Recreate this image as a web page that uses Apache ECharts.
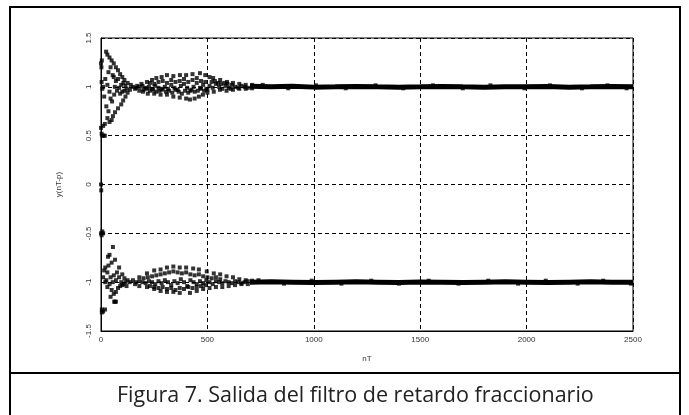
<!DOCTYPE html>
<html>
<head>
<meta charset="utf-8">
<title>Figura 7</title>
<script src="https://cdn.jsdelivr.net/npm/echarts@6/dist/echarts.min.js"></script>
<style>
  html, body { margin: 0; padding: 0; background: #fff; }
  #chart { width: 689px; height: 415px; }
</style>
</head>
<body>
<div id="chart"></div>
<script>
// 坐标轴刻度
const xTicks = [0, 500, 1000, 1500, 2000, 2500];
const yTicks = [-1.5, -1, -0.5, 0, 0.5, 1, 1.5];

// 上支路：起始发散区 (0-150)
const upperStart = [
  [0, 1.24], [2, 1.2], [4, 1.27], [3, 1.05], [6, 0.98], [0, 0.58], [3, 0.52], [6, 0.5], [12, 0.5], [18, 0.5],
  [10, 0.6], [18, 0.62], [30, 0.68], [40, 0.64], [50, 0.66], [56, 0.7], [66, 0.74], [80, 0.78], [95, 0.82],
  [104, 0.86], [115, 0.9], [125, 0.94], [136, 0.97],
  [24, 1.36], [30, 1.33], [40, 1.3], [50, 1.27], [60, 1.24], [70, 1.2], [80, 1.17], [90, 1.13], [100, 1.1],
  [110, 1.07], [125, 1.04], [140, 1.02],
  [20, 1.08], [30, 1.02], [40, 0.95], [45, 0.88], [52, 0.85], [62, 0.92], [75, 0.96], [85, 0.99], [95, 1.02],
  [105, 1.04], [115, 1.01], [60, 1.1], [70, 1.06], [80, 1.08], [90, 0.93], [100, 0.95], [110, 0.96], [120, 0.98],
  [35, 1.15], [45, 1.2], [55, 1.12], [65, 1.0], [25, 0.8], [35, 0.75], [15, 0.9], [10, 1.0], [0, 0], [1, -0.06]
];
// 上支路：中段气泡区 (150-700)
const upperMiddle = [
  [150, 1.0], [170, 1.01], [190, 1.03], [216, 1.05], [240, 1.07], [260, 1.09], [285, 1.1], [310, 1.12], [340, 1.11],
  [371, 1.12], [400, 1.12], [430, 1.13], [465, 1.14], [490, 1.12], [510, 1.1], [527, 1.09], [560, 1.07], [592, 1.05],
  [620, 1.04], [650, 1.03], [680, 1.02], [710, 1.02],
  [160, 0.98], [180, 0.96], [197, 0.95], [220, 0.93], [250, 0.93], [280, 0.92], [310, 0.92], [340, 0.9], [370, 0.89],
  [400, 0.88], [418, 0.87], [440, 0.88], [460, 0.9], [479, 0.92], [500, 0.94], [530, 0.95], [559, 0.97], [590, 0.96],
  [620, 0.97], [650, 0.98], [680, 0.98], [710, 0.985],
  [165, 0.99], [180, 1.0], [195, 1.01], [210, 0.99], [225, 1.0], [240, 0.98], [255, 1.01], [270, 0.99], [285, 0.97],
  [300, 1.0], [315, 0.98], [330, 1.02], [345, 0.99], [360, 0.97], [375, 1.01], [390, 1.03], [405, 0.99], [420, 0.96],
  [435, 1.0], [450, 1.04], [465, 0.99], [480, 1.02], [495, 0.98], [510, 1.01], [525, 0.99], [540, 1.03], [555, 1.0],
  [570, 0.98], [585, 1.01], [600, 0.99], [615, 1.02], [630, 1.0], [645, 0.99], [660, 1.01], [675, 1.0], [690, 0.99],
  [200, 0.97], [215, 0.98], [230, 0.96], [245, 0.97], [260, 0.95], [275, 0.96], [290, 0.98], [305, 0.95], [320, 0.96],
  [335, 0.94], [350, 0.97], [365, 0.95], [380, 0.93], [395, 0.96], [410, 0.94], [425, 0.97], [440, 0.95], [455, 0.96],
  [470, 0.98], [485, 0.96], [500, 0.97], [520, 1.05], [535, 1.06], [550, 1.04], [565, 1.03], [580, 1.04], [595, 1.03],
  [610, 0.98],
  [230, 1.04], [250, 1.03], [270, 1.05], [290, 1.06], [310, 1.04], [330, 1.07], [350, 1.05], [370, 1.06], [390, 1.08],
  [410, 1.05], [430, 1.07], [450, 1.09], [470, 1.06], [490, 1.05]
];
// 下支路：起始发散区 (0-150)
const lowerStart = [
  [0, -0.5], [3, -0.52], [6, -0.48], [10, -0.5], [56, -0.64], [33, -0.74], [40, -0.72], [66, -0.77], [50, -0.8],
  [20, -0.85], [30, -0.9], [45, -0.95], [25, -0.98], [60, -0.93], [75, -0.9], [85, -0.95], [95, -1.0], [105, -1.02],
  [115, -1.0], [30, -1.05], [50, -1.08], [60, -1.12], [70, -1.1], [80, -1.06], [90, -1.04], [100, -1.03], [40, -1.02],
  [20, -1.0], [10, -0.95], [62, -1.2], [66, -1.2], [70, -1.2], [19, -1.28], [10, -1.3], [4, -1.31], [4, -1.28],
  [85, -0.85], [100, -0.92], [110, -0.96], [125, -0.98], [135, -1.0], [15, -0.88], [35, -0.83], [45, -1.15],
  [55, -1.0], [70, -0.98], [120, -1.04]
];
// 下支路：中段气泡区 (150-700)
const lowerMiddle = [
  [150, -0.98], [180, -0.95], [216, -0.91], [250, -0.88], [280, -0.87], [310, -0.85], [340, -0.84], [370, -0.85],
  [400, -0.85], [433, -0.86], [460, -0.87], [497, -0.89], [530, -0.91], [560, -0.92], [590, -0.94], [620, -0.95],
  [650, -0.97], [680, -0.98], [710, -0.985],
  [160, -1.02], [180, -1.04], [216, -1.05], [250, -1.07], [280, -1.09], [310, -1.1], [340, -1.1], [370, -1.11],
  [418, -1.11], [450, -1.09], [480, -1.07], [510, -1.06], [540, -1.05], [570, -1.05], [600, -1.04], [630, -1.03],
  [660, -1.02], [690, -1.02],
  [165, -1.0], [180, -0.99], [195, -1.0], [210, -1.01], [225, -0.99], [240, -1.0], [255, -1.02], [270, -0.99],
  [285, -1.01], [300, -0.98], [315, -1.0], [330, -1.03], [345, -0.99], [360, -1.01], [375, -0.97], [390, -1.0],
  [405, -1.04], [420, -0.98], [435, -1.0], [450, -1.02], [465, -0.99], [480, -1.01], [495, -0.98], [510, -1.0],
  [525, -1.02], [540, -0.99], [555, -1.0], [570, -1.01], [585, -0.99], [600, -1.0], [615, -1.01], [630, -0.99],
  [645, -1.0], [660, -1.01], [675, -1.0], [690, -0.99],
  [200, -0.96], [220, -0.95], [240, -0.94], [260, -0.93], [280, -0.92], [300, -0.91], [320, -0.9], [340, -0.89],
  [360, -0.9], [380, -0.91], [400, -0.9], [420, -0.92], [440, -0.93], [460, -0.92], [480, -0.94], [500, -0.95],
  [520, -0.96], [540, -0.95], [560, -0.97],
  [230, -1.04], [250, -1.05], [270, -1.06], [290, -1.05], [310, -1.07], [330, -1.06], [350, -1.08], [370, -1.06],
  [390, -1.07], [410, -1.05], [430, -1.06], [450, -1.05], [470, -1.04], [490, -1.03]
];
// 稳态段 (700-2500)
const tailX = [700, 800, 900, 1000, 1100, 1200, 1300, 1400, 1500, 1600, 1700, 1800, 1900, 2000, 2100, 2200, 2300, 2400, 2500];
const upperTail = [1.005, 1.0, 1.005, 0.997, 1.0, 1.004, 1.0, 0.997, 1.0, 1.004, 1.0, 0.997, 1.0, 1.0, 1.004, 0.997, 1.0, 1.004, 1.0];
const lowerTail = [-1.0, -0.997, -1.0, -1.004, -1.0, -0.997, -1.0, -1.004, -0.998, -1.0, -1.004, -1.0, -0.997, -1.0, -1.004, -1.0, -0.997, -1.0, -1.0];
// 稳态段离群点
const upperTailOut = [
  [760, 1.02], [880, 0.985], [1010, 1.015], [1150, 0.985], [1290, 1.015], [1420, 0.985], [1560, 1.015],
  [1700, 0.985], [1830, 1.015], [1990, 0.985], [2110, 1.015], [2260, 0.985], [2380, 1.015], [2470, 0.985]
];
const lowerTailOut = [
  [740, -0.98], [860, -1.015], [990, -0.985], [1130, -1.015], [1270, -0.985], [1400, -1.015], [1540, -0.985],
  [1680, -1.015], [1820, -0.985], [1960, -1.015], [2090, -0.985], [2240, -1.015], [2360, -0.985], [2490, -1.015]
];

const chartDom = document.getElementById("chart");
const chart = echarts.init(chartDom, null, { renderer: "canvas" });

// 散点系列
function dotSeries(data) {
  return {
    type: "scatter",
    data: data,
    symbol: "rect",
    symbolSize: 4,
    itemStyle: { color: "#000" },
    silent: true,
    animation: false
  };
}
// 稳态粗线系列
function tailSeries(values) {
  return {
    type: "line",
    data: tailX.map((x, i) => [x, values[i]]),
    showSymbol: false,
    lineStyle: { color: "#000", width: 5 },
    silent: true,
    animation: false
  };
}

const option = {
  animation: false,
  backgroundColor: "#fff",
  // 图题
  title: {
    text: "Figura 7. Salida del filtro de retardo fraccionario",
    left: 112,
    top: 380,
    textStyle: { fontFamily: "Open Sans", fontSize: 21.5, fontWeight: "normal", color: "#222" }
  },
  // 外框
  graphic: [
    { type: "rect", shape: { x: 10, y: 7, width: 670, height: 420 }, style: { fill: "none", stroke: "#000", lineWidth: 2 } },
    { type: "line", shape: { x1: 10, y1: 373, x2: 680, y2: 373 }, style: { stroke: "#000", lineWidth: 2 } }
  ],
  grid: {
    left: 101,
    right: 56,
    top: 38,
    bottom: 84,
    show: true,
    borderColor: "#000",
    borderWidth: 1
  },
  xAxis: {
    type: "value",
    min: xTicks[0],
    max: xTicks[xTicks.length - 1],
    interval: 500,
    name: "nT",
    nameLocation: "middle",
    nameGap: 24,
    nameTextStyle: { fontSize: 8, color: "#333" },
    axisLine: { show: true, onZero: false, lineStyle: { color: "#000" } },
    axisTick: { show: false },
    axisLabel: { fontSize: 8, color: "#333", margin: 5, formatter: (v) => (xTicks.includes(v) ? String(v) : "") },
    splitLine: { show: true, lineStyle: { color: "#000", type: [4, 3], width: 1 } }
  },
  yAxis: {
    type: "value",
    min: yTicks[0],
    max: yTicks[yTicks.length - 1],
    interval: 0.5,
    name: "y(nT-p)",
    nameLocation: "middle",
    nameGap: 38,
    nameRotate: 90,
    nameTextStyle: { fontSize: 8, color: "#333" },
    axisLine: { show: true, onZero: false, lineStyle: { color: "#000" } },
    axisTick: { show: false },
    axisLabel: { fontSize: 8, color: "#333", margin: 8, rotate: 90, formatter: (v) => String(v) },
    splitLine: { show: true, lineStyle: { color: "#000", type: [4, 3], width: 1 } }
  },
  series: [
    tailSeries(upperTail),
    tailSeries(lowerTail),
    dotSeries(upperStart),
    dotSeries(upperMiddle),
    dotSeries(lowerStart),
    dotSeries(lowerMiddle),
    dotSeries(upperTailOut),
    dotSeries(lowerTailOut)
  ]
};

chart.setOption(option);
</script>
</body>
</html>
